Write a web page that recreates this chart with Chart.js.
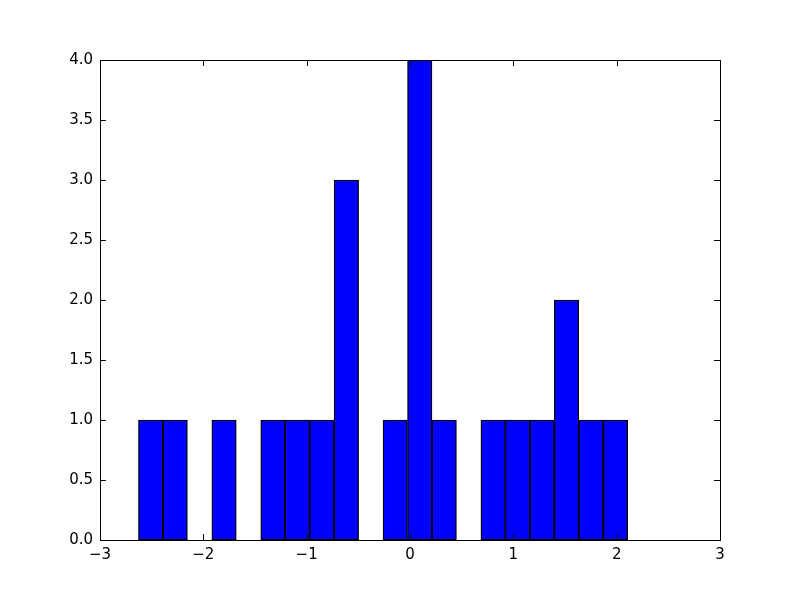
<!DOCTYPE html>
<html>
<head>
<meta charset="utf-8">
<script src="https://cdn.jsdelivr.net/npm/chart.js@4/dist/chart.umd.min.js"></script>
<style>
  html, body { margin: 0; padding: 0; background: #fff; }
</style>
</head>
<body>
<canvas id="myChart" width="800" height="600"></canvas>
<script>
// histogram bin edges and counts
const binEdges = [-2.628, -2.391, -2.154, -1.918, -1.681, -1.444, -1.208, -0.971, -0.734, -0.497,
    -0.261, -0.024, 0.213, 0.449, 0.686, 0.923, 1.160, 1.396, 1.633, 1.870, 2.107];
const counts = [1, 1, 0, 1, 0, 1, 1, 1, 3, 0, 1, 4, 1, 0, 1, 1, 1, 2, 1, 1];
const xTicks = [-3, -2, -1, 0, 1, 2, 3];
const yTicks = [0, 0.5, 1, 1.5, 2, 2.5, 3, 3.5, 4];

const points = counts.map((c, i) => ({ x: (binEdges[i] + binEdges[i + 1]) / 2, y: c }));

const tickFont = { family: 'DejaVu Sans', size: 15 };

// matplotlib style frame with inward ticks on all four sides
const framePlugin = {
    id: 'frame',
    afterDatasetsDraw(chart) {
        const { ctx, chartArea: a, scales } = chart;
        const len = 6;
        ctx.save();
        ctx.strokeStyle = '#000';
        ctx.lineWidth = 1;
        ctx.beginPath();
        xTicks.forEach(v => {
            const px = Math.round(scales.x.getPixelForValue(v)) + 0.5;
            ctx.moveTo(px, a.bottom);
            ctx.lineTo(px, a.bottom - len);
            ctx.moveTo(px, a.top);
            ctx.lineTo(px, a.top + len);
        });
        yTicks.forEach(v => {
            const py = Math.round(scales.y.getPixelForValue(v)) + 0.5;
            ctx.moveTo(a.left, py);
            ctx.lineTo(a.left + len, py);
            ctx.moveTo(a.right, py);
            ctx.lineTo(a.right - len, py);
        });
        ctx.stroke();
        ctx.strokeRect(a.left + 0.5, a.top + 0.5, a.right - a.left, a.bottom - a.top);
        ctx.restore();
    }
};

new Chart(document.getElementById('myChart'), {
    type: 'bar',
    data: {
        datasets: [{
            data: points,
            backgroundColor: '#0000ff',
            borderColor: '#000000',
            borderWidth: 1.3,
            borderSkipped: false,
            barPercentage: 1,
            categoryPercentage: 1
        }]
    },
    options: {
        responsive: false,
        animation: false,
        layout: { padding: { top: 60, right: 80, left: 0, bottom: 0 } },
        plugins: { legend: { display: false }, tooltip: { enabled: false } },
        scales: {
            x: {
                type: 'linear',
                min: -3,
                max: 3,
                offset: false,
                grid: { display: false, drawTicks: false },
                border: { display: false },
                afterFit: s => { s.height = 60; },
                afterBuildTicks: s => { s.ticks = xTicks.map(v => ({ value: v })); },
                ticks: {
                    padding: 6,
                    maxRotation: 0,
                    color: '#000',
                    font: tickFont,
                    callback: v => String(v).replace('-', '\u2212')
                }
            },
            y: {
                min: 0,
                max: 4,
                grid: { display: false, drawTicks: false },
                border: { display: false },
                afterFit: s => { s.width = 100; },
                afterBuildTicks: s => { s.ticks = yTicks.map(v => ({ value: v })); },
                ticks: {
                    padding: 7,
                    color: '#000',
                    font: tickFont,
                    callback: v => v.toFixed(1)
                }
            }
        }
    },
    plugins: [framePlugin]
});
</script>
</body>
</html>
